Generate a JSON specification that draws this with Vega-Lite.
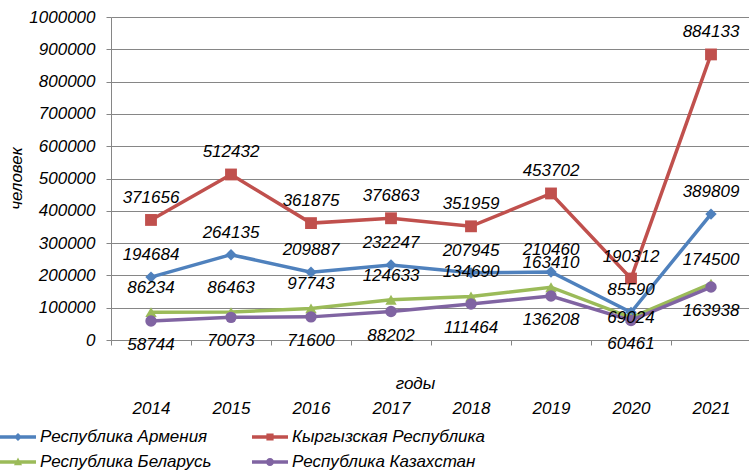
{
  "$schema": "https://vega.github.io/schema/vega-lite/v6.json",
  "width": 640,
  "height": 323,
  "autosize": {"type": "none"},
  "padding": {"left": 111, "top": 17, "right": 0, "bottom": 130},
  "background": "white",
  "config": {"view": {"stroke": null}, "font": "Liberation Sans"},
  "data": {"values": [
    {"year": "2014", "country": "Республика Армения", "value": 194684},
    {"year": "2015", "country": "Республика Армения", "value": 264135},
    {"year": "2016", "country": "Республика Армения", "value": 209887},
    {"year": "2017", "country": "Республика Армения", "value": 232247},
    {"year": "2018", "country": "Республика Армения", "value": 207945},
    {"year": "2019", "country": "Республика Армения", "value": 210460},
    {"year": "2020", "country": "Республика Армения", "value": 85590},
    {"year": "2021", "country": "Республика Армения", "value": 389809},
    {"year": "2014", "country": "Кыргызская Республика", "value": 371656},
    {"year": "2015", "country": "Кыргызская Республика", "value": 512432},
    {"year": "2016", "country": "Кыргызская Республика", "value": 361875},
    {"year": "2017", "country": "Кыргызская Республика", "value": 376863},
    {"year": "2018", "country": "Кыргызская Республика", "value": 351959},
    {"year": "2019", "country": "Кыргызская Республика", "value": 453702},
    {"year": "2020", "country": "Кыргызская Республика", "value": 190312},
    {"year": "2021", "country": "Кыргызская Республика", "value": 884133},
    {"year": "2014", "country": "Республика Беларусь", "value": 86234},
    {"year": "2015", "country": "Республика Беларусь", "value": 86463},
    {"year": "2016", "country": "Республика Беларусь", "value": 97743},
    {"year": "2017", "country": "Республика Беларусь", "value": 124633},
    {"year": "2018", "country": "Республика Беларусь", "value": 134690},
    {"year": "2019", "country": "Республика Беларусь", "value": 163410},
    {"year": "2020", "country": "Республика Беларусь", "value": 69024},
    {"year": "2021", "country": "Республика Беларусь", "value": 174500},
    {"year": "2014", "country": "Республика Казахстан", "value": 58744},
    {"year": "2015", "country": "Республика Казахстан", "value": 70073},
    {"year": "2016", "country": "Республика Казахстан", "value": 71600},
    {"year": "2017", "country": "Республика Казахстан", "value": 88202},
    {"year": "2018", "country": "Республика Казахстан", "value": 111464},
    {"year": "2019", "country": "Республика Казахстан", "value": 136208},
    {"year": "2020", "country": "Республика Казахстан", "value": 60461},
    {"year": "2021", "country": "Республика Казахстан", "value": 163938}
  ]},
  "encoding": {
    "x": {
      "field": "year", "type": "ordinal",
      "scale": {"type": "band", "paddingInner": 0, "paddingOuter": 0},
      "axis": {
        "title": "годы", "titleFontStyle": "italic", "titleFontWeight": "normal", "titleFontSize": 17,
        "titleColor": "#000", "titleX": 304, "titleY": 43, "titleBaseline": "middle", "titleAlign": "center",
        "labelAngle": 0, "labelFontStyle": "italic", "labelFontSize": 17, "labelColor": "#000",
        "labelPadding": 55, "tickBand": "extent", "tickSize": 5, "grid": false,
        "domainColor": "#868686", "tickColor": "#868686"
      }
    },
    "y": {
      "field": "value", "type": "quantitative",
      "scale": {"domain": [0, 1000000], "nice": false},
      "axis": {
        "title": "человек", "titleFontStyle": "italic", "titleFontWeight": "normal", "titleFontSize": 17,
        "titleColor": "#000", "titleX": -95, "titleY": 161, "titleAlign": "center", "titleBaseline": "middle",
        "values": [0, 100000, 200000, 300000, 400000, 500000, 600000, 700000, 800000, 900000, 1000000],
        "format": "d", "labelFontStyle": "italic", "labelFontSize": 17, "labelColor": "#000",
        "labelPadding": 11, "tickSize": 5, "gridColor": "#868686", "domainColor": "#868686", "tickColor": "#868686"
      }
    },
    "color": {
      "field": "country", "type": "nominal",
      "scale": {
        "domain": ["Республика Армения", "Кыргызская Республика", "Республика Беларусь", "Республика Казахстан"],
        "range": ["#4F81BD", "#C0504D", "#9BBB59", "#8064A2"]
      },
      "legend": {
        "title": null, "orient": "none", "legendX": -102, "legendY": 411, "columns": 2, "direction": "horizontal",
        "columnPadding": 40, "rowPadding": 8, "padding": 0, "labelLimit": 0,
        "labelFontSize": 17, "labelFontStyle": "italic", "labelColor": "#000", "labelOffset": 13,
        "symbolSize": 324, "symbolStrokeWidth": 0
      }
    }
  },
  "layer": [
    {"mark": {"type": "line", "strokeWidth": 3.5}},
    {
      "mark": {"type": "point", "filled": true, "size": 0, "opacity": 1},
      "encoding": {
        "shape": {
          "field": "country", "type": "nominal",
          "scale": {
            "domain": ["Республика Армения", "Кыргызская Республика", "Республика Беларусь", "Республика Казахстан"],
            "range": [
              "M-2,-0.2H2V0.2H-2Z M0,-0.45L0.45,0L0,0.45L-0.45,0Z",
              "M-2,-0.2H2V0.2H-2Z M-0.4,-0.4H0.4V0.4H-0.4Z",
              "M-2,-0.2H2V0.2H-2Z M0,-0.5L0.45,0.35H-0.45Z",
              "M-2,-0.2H2V0.2H-2Z M0.45,0A0.45,0.45 0 1 1 -0.45,0A0.45,0.45 0 1 1 0.45,0Z"
            ]
          }
        }
      }
    },
    {
      "transform": [{"filter": "datum.country === 'Республика Армения'"}],
      "mark": {"type": "point", "shape": "diamond", "filled": true, "size": 130, "opacity": 1}
    },
    {
      "transform": [{"filter": "datum.country === 'Кыргызская Республика'"}],
      "mark": {"type": "point", "shape": "square", "filled": true, "size": 140, "opacity": 1}
    },
    {
      "transform": [{"filter": "datum.country === 'Республика Беларусь'"}],
      "mark": {"type": "point", "shape": "triangle-up", "filled": true, "size": 130, "opacity": 1}
    },
    {
      "transform": [{"filter": "datum.country === 'Республика Казахстан'"}],
      "mark": {"type": "point", "shape": "circle", "filled": true, "size": 130, "opacity": 1}
    },
    {
      "transform": [{"filter": "datum.country === 'Республика Армения'"}],
      "mark": {"type": "text", "dy": -22, "fontStyle": "italic", "fontSize": 17},
      "encoding": {"text": {"field": "value", "type": "quantitative", "format": "d"}, "color": {"value": "#000"}}
    },
    {
      "transform": [{"filter": "datum.country === 'Кыргызская Республика'"}],
      "mark": {"type": "text", "dy": -22, "fontStyle": "italic", "fontSize": 17},
      "encoding": {"text": {"field": "value", "type": "quantitative", "format": "d"}, "color": {"value": "#000"}}
    },
    {
      "transform": [{"filter": "datum.country === 'Республика Беларусь' && datum.year !== '2020'"}],
      "mark": {"type": "text", "dy": -24, "fontStyle": "italic", "fontSize": 17},
      "encoding": {"text": {"field": "value", "type": "quantitative", "format": "d"}, "color": {"value": "#000"}}
    },
    {
      "transform": [{"filter": "datum.country === 'Республика Беларусь' && datum.year === '2020'"}],
      "mark": {"type": "text", "dy": 0, "fontStyle": "italic", "fontSize": 17},
      "encoding": {"text": {"field": "value", "type": "quantitative", "format": "d"}, "color": {"value": "#000"}}
    },
    {
      "transform": [{"filter": "datum.country === 'Республика Казахстан'"}],
      "mark": {"type": "text", "dy": 24, "fontStyle": "italic", "fontSize": 17},
      "encoding": {"text": {"field": "value", "type": "quantitative", "format": "d"}, "color": {"value": "#000"}}
    }
  ]
}
